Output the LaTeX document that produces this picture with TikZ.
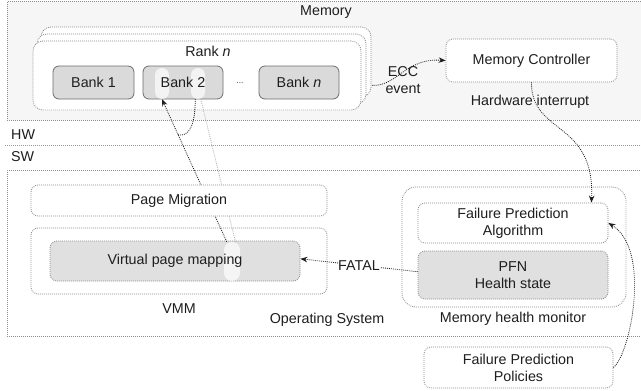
\documentclass[tikz,border=0pt]{standalone}
\usepackage{fontspec}
\setmainfont{Liberation Sans}
\usetikzlibrary{arrows.meta,calc}
\definecolor{edge}{HTML}{8C8C8C}
\definecolor{bankfill}{HTML}{DADADA}
\definecolor{bankedge}{HTML}{6E6E6E}
\definecolor{graybox}{HTML}{E0E0E0}
\definecolor{memfill}{HTML}{F6F6F6}
\definecolor{ink}{HTML}{1E1E1E}
\tikzset{
  dots/.style={dash pattern=on 0.9pt off 1.1pt, line width=0.8pt},
  region/.style={draw=edge, dots, fill=#1, inner sep=0pt, anchor=north west},
  region/.default=white,
  box/.style={draw=edge, dots, rounded corners=7pt, fill=white, inner sep=0pt, align=center},
  graybx/.style={box, fill=graybox},
  rankbox/.style={draw=edge, dots, rounded corners=10pt, fill=white, inner sep=0pt},
  bank/.style={draw=bankedge, line width=0.8pt, rounded corners=6pt, fill=bankfill,
    minimum width=80pt, minimum height=33pt, inner sep=0pt},
  glow/.style={fill=white, fill opacity=0.7, rounded corners=7pt, inner sep=0pt,
    minimum width=14pt, minimum height=31pt},
  conn/.style={draw=ink, dots, -{Stealth[length=7pt,width=5.5pt]}},
  faint/.style={draw=black!30, dots},
  lbl/.style={inner sep=0pt, text=ink},
}
\begin{document}
\begin{tikzpicture}[x=1pt, y=-1pt, font=\fontsize{14.3}{17}\selectfont, text=ink]
\useasboundingbox (0,0) rectangle (641,391);

% hardware and software regions
\node[region=memfill, minimum width=660pt, minimum height=119pt] (mem) at (7,1) {};
\node[lbl] (memlbl) at (326,12) {Memory};
\node[region, minimum width=660pt, minimum height=166pt] (os) at (7,170) {};
\coordinate (splitL) at (5,145.5);
\coordinate (splitR) at (641,145.5);
\draw[draw=black!40, dots] (splitL) -- (splitR);
\node[lbl, anchor=west] (hw) at (11,135) {HW};
\node[lbl, anchor=west] (sw) at (11,157) {SW};

% stacked ranks
\node[rankbox, minimum width=330pt, minimum height=70pt] (rankc) at (206,62) {};
\node[rankbox, minimum width=329pt, minimum height=70pt] (rankb) at (201.5,69) {};
\node[rankbox, minimum width=328pt, minimum height=69pt] (ranka) at (197,75.5) {};
\node[lbl] (ranklbl) at (208,51) {Rank \textit{n}};

% banks: body, highlighted rows, then the captions on top
\node[bank, minimum width=81pt] (bank1) at (93.5,82.5) {};
\node[bank] (bank2) at (183,82.5) {};
\node[bank] (bankn) at (299,82.5) {};
\node[glow] (hl1) at (162,83.5) {};
\node[glow] (hl2) at (198,83.5) {};
\node[lbl] (bank1t) at (bank1) {Bank 1};
\node[lbl] (bank2t) at (bank2) {Bank 2};
\node[lbl] (bankntt) at (bankn) {Bank \textit{n}};
\node[lbl, font=\fontsize{8}{8}\selectfont] (ell) at (240,83) {...};

% memory controller
\node[box, minimum width=171pt, minimum height=43pt] (mc) at (531.5,60.5) {Memory Controller};
\node[lbl] (hwint) at (530,102) {Hardware interrupt};
\node[lbl, align=center] (ecc) at (403,80) {ECC\\event};

% virtual memory manager
\node[box, minimum width=296pt, minimum height=66pt] (vmm) at (179,261) {};
\node[graybx, minimum width=250pt, minimum height=40pt] (vpm) at (175,261) {};
\node[glow, minimum width=16pt, minimum height=39pt, rounded corners=8pt] (hlv) at (232,261.5) {};
\node[lbl] (vpmt) at (vpm) {Virtual page mapping};
\node[lbl] (vmmlbl) at (179,309) {VMM};
\node[lbl] (oslbl) at (327,320) {Operating System};

% migration path between the two bank rows
\coordinate (join) at ($(hlv.105)!0.75!(hl1.south)$);
\draw[faint] (hl2.280) -- (hlv.80);
\draw[conn] (hlv.105) -- (hl1.south);
\draw[draw=ink, dots] (hl2.260) .. controls ($(hl2.260)+(0,28)$) and ($(join)+(10,2)$) .. (join);

\node[box, minimum width=296pt, minimum height=31pt] (pm) at (179,200.5) {Page Migration};

% memory health monitor
\node[box, rounded corners=14pt, minimum width=224pt, minimum height=120pt] (mhm) at (514,247) {};
\node[box, minimum width=190pt, minimum height=40pt] (fpa) at (513,223) {Failure Prediction\\Algorithm};
\node[graybx, minimum width=190pt, minimum height=48pt] (pfn) at (513,275) {PFN\\Health state};
\node[lbl] (mhmlbl) at (513,319) {Memory health monitor};
\node[box, minimum width=189pt, minimum height=41pt] (pol) at (518.5,367.5) {Failure Prediction\\Policies};

% connectors
\coordinate (eccsrc) at ($(rankc.south east)+(1,-12)$);
\draw[conn] (eccsrc) .. controls (398,86) and (405,58) .. (mc.west);
\draw[conn] (mc.south) .. controls (531,135) and (595,120) .. ($(fpa.north east)+(-17,0)$);
\draw[conn] (pfn.178) -- node[lbl, pos=0.5, fill=white, inner sep=0.5pt] {FATAL} (vpm.1);
\draw[conn] (pol.east) .. controls (630,355) and (652,250) .. (fpa.east);
\end{tikzpicture}
\end{document}
